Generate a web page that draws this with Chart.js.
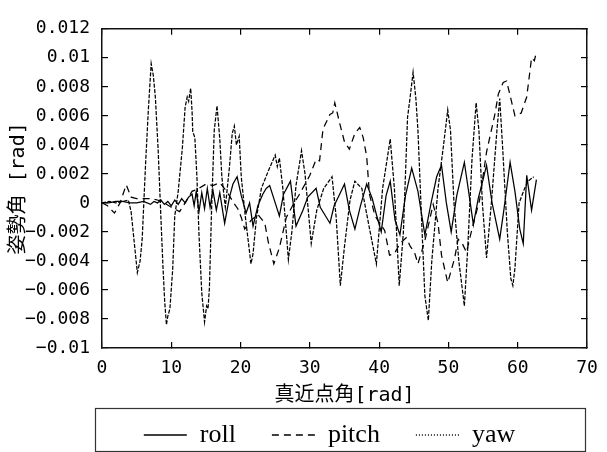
<!DOCTYPE html>
<html><head><meta charset="utf-8">
<script src="https://cdn.jsdelivr.net/npm/chart.js@4"></script>
<style>html,body{margin:0;padding:0;background:#fff}</style>
</head><body>
<canvas id="c" width="607" height="452"></canvas>
<script>
// ---- data ----
const xTickValues = [0, 10, 20, 30, 40, 50, 60, 70];
const xTickLabels = ['0', '10', '20', '30', '40', '50', '60', '70'];
const yTickValues = [-0.01, -0.008, -0.006, -0.004, -0.002, 0, 0.002, 0.004, 0.006, 0.008, 0.01, 0.012];
const yTickLabels = ['−0.01', '−0.008', '−0.006', '−0.004', '−0.002', '0', '0.002', '0.004', '0.006', '0.008', '0.01', '0.012'];
const seriesNames = ['roll', 'pitch', 'yaw'];
const xTitle = '真近点角[rad]';
const yTitle = '姿勢角 [rad]';

const rollData = [[0,0],[1,0],[2,0.0001],[3,0.0001],[4,0],[5,0],[6,0.0001],[7,-0.0001],[7.5,0.0001],[8,0],[8.5,0.0002],[9,-0.0001],[9.5,0.0001],[10,-0.0002],[10.5,0.0002],[11,-0.0001],[11.5,0.0003],[12,0],[12.5,0.0004],[13,0.0006],[13.3,-0.0002],[13.6,0.0008],[14,-0.0006],[14.4,0.0007],[14.8,-0.0004],[15.2,0.001],[15.6,-0.0003],[16,0.0009],[16.5,-0.0005],[17,0.0007],[17.7,-0.0014],[18.4,0.0004],[18.9,0.0013],[19.5,0.0018],[20.1,0.0005],[20.8,-0.0007],[21.3,0],[21.8,-0.0016],[22.5,-0.0002],[23.2,0.0006],[23.7,0.001],[24.2,0.0012],[25,0],[25.6,-0.0009],[26.2,0.0006],[27.2,0.0015],[28,-0.0016],[29,-0.0005],[29.7,0.0004],[30.9,0.001],[31.5,-0.0003],[32.9,-0.0014],[33.5,-0.0002],[34.3,0.0006],[35,0.0013],[35.7,-0.0005],[36.5,-0.0018],[37.3,-0.0002],[38.2,0.0013],[39,0.0003],[39.6,-0.0008],[40.3,-0.002],[41,0.0005],[41.6,0.0015],[42.3,-0.0012],[43,-0.0022],[43.8,0.0005],[44.7,0.0024],[45.6,0.0008],[46.6,-0.0022],[47.5,0],[48.3,0.0018],[49,0.0026],[49.7,0],[50.4,-0.002],[51.2,0.0005],[52.3,0.0028],[53,0.0005],[53.6,-0.0015],[54.3,0.0003],[55,0.0016],[55.5,0.0026],[56.3,0],[57.4,-0.0025],[58,-0.0005],[58.9,0.0028],[59.6,0.0008],[60.3,-0.0018],[60.8,-0.0028],[61.3,0.0019],[62,-0.0005],[62.7,0.0016]];

const pitchData = [[0,0],[0.8,-0.0002],[1.8,-0.0007],[2.6,0],[3.5,0.00125],[4.2,0.0004],[5,0.0003],[6,0.0003],[7,0.0003],[8,0.0002],[9,0],[10,-0.0003],[11.2,-0.0006],[12,0],[13,0.0008],[14,0.001],[15,0.0013],[16,0.0012],[17,0.0014],[18,0.0008],[19,0],[19.6,-0.0004],[20.1,-0.001],[20.6,-0.0018],[21.5,-0.0012],[22.5,-0.0008],[23.5,-0.0014],[24,-0.0027],[24.8,-0.0042],[25.6,-0.0031],[26.6,-0.001],[27.5,-0.0002],[28.5,0.0006],[30,0.0019],[30.9,0.003],[31.4,0.0029],[31.9,0.0051],[32.9,0.0061],[33.3,0.0062],[33.6,0.0069],[34.3,0.0055],[35,0.0042],[35.7,0.0037],[36.5,0.0048],[37.2,0.0052],[37.7,0.0045],[38.2,0.0032],[38.6,0.0006],[39.4,-0.0009],[40.8,-0.0019],[41.5,-0.0036],[42.2,-0.0035],[43,-0.0028],[43.9,-0.0024],[44.5,-0.003],[45.1,-0.0034],[45.6,-0.0042],[46.6,-0.0026],[47.8,-0.0001],[48.5,-0.0014],[49,-0.0036],[49.9,-0.0055],[50.9,-0.0038],[51.4,-0.0025],[52,-0.0028],[52.6,-0.0034],[53.3,-0.002],[54,-0.0007],[54.5,0.0002],[55.5,0.0035],[56.7,0.0061],[57.2,0.0075],[57.9,0.0083],[58.4,0.0084],[59,0.0072],[59.6,0.006],[60.5,0.0062],[61.3,0.0073],[62,0.01],[62.4,0.0098],[62.7,0.0104]];

const yawData = [[0,0],[1,0.0001],[2,0],[3,0.0001],[3.8,0.0002],[4.2,-0.0006],[5.1,-0.0048],[5.5,-0.004],[5.8,-0.0025],[6.3,0.0028],[6.7,0.0065],[7.1,0.0096],[7.4,0.0088],[7.7,0.0073],[8.1,0.0037],[8.5,-0.001],[8.8,-0.0044],[9.05,-0.0068],[9.3,-0.0084],[9.5,-0.0078],[9.8,-0.0073],[10.2,-0.0046],[10.5,-0.0009],[11,0.0008],[11.6,0.0038],[12,0.0066],[12.3,0.0073],[12.5,0.007],[12.8,0.0079],[13,0.0063],[13.1,0.0049],[13.4,0.0045],[13.7,0.0018],[14,-0.0022],[14.4,-0.0062],[14.8,-0.0082],[15.1,-0.0071],[15.3,-0.0073],[15.5,-0.0059],[15.8,-0.0007],[16.2,0.005],[16.6,0.0067],[17,0.0044],[17.3,0.0018],[17.8,-0.0003],[18.4,0.0025],[18.8,0.0048],[19.1,0.0053],[19.4,0.004],[19.8,0.0046],[20.1,0.0018],[20.7,-0.001],[21.5,-0.0042],[21.8,-0.0035],[22.3,-0.001],[23,0.001],[24,0.0022],[25,0.0033],[25.3,0.0025],[25.6,0.0031],[26.1,0.001],[26.9,-0.0039],[27.4,-0.002],[28,0.0012],[28.8,0.0036],[29.3,0.002],[30.2,-0.0028],[31,-0.0005],[32,0.001],[33.2,0.0018],[33.8,-0.001],[34.4,-0.0057],[35,-0.003],[35.8,0.0002],[36.5,0.0015],[37.5,0.001],[38.5,-0.0015],[39.6,-0.0042],[40.5,0.001],[41.6,0.0044],[42.2,0.001],[42.9,-0.0057],[43.5,-0.002],[44.1,0.0059],[44.4,0.007],[44.9,0.009],[45.3,0.0072],[45.6,0.005],[46.2,-0.002],[46.6,-0.0064],[47.1,-0.0081],[47.6,-0.004],[48.5,0.001],[49.3,0.004],[49.9,0.0064],[50.3,0.005],[50.8,0],[51.5,-0.004],[52.3,-0.0071],[52.8,-0.003],[53.4,0.003],[54,0.0069],[54.4,0.005],[54.9,0],[55.5,-0.0038],[56.2,0],[57,0.005],[57.4,0.0072],[57.8,0.004],[58.5,-0.002],[59,-0.0052],[59.3,-0.0057],[59.6,-0.0045],[60.2,0],[61,0.001],[61.5,0.0015],[62.3,0.0018]];

// ---- styles ----
const MONO = '"DejaVu Sans Mono","Noto Sans CJK JP",monospace';
const tickFont = {family: MONO, size: 18};
const titleFont = {family: MONO, size: 20};
const lineDashes = [[], [7, 5], [4, 1.5]];
const legendDashes = [[], [7, 5], [1, 2]];
const LEGEND_H = 66;

const setTicks = vals => s => { s.ticks = vals.map(v => ({value: v})); };
const gridOpts = {drawOnChartArea: false, drawTicks: true, tickLength: -6, color: '#000', tickColor: '#000', lineWidth: 1.2};
const borderOpts = {display: true, color: '#111', width: 1.5};

const legendTweaks = {
  id: 'legendTweaks',
  beforeLayout(chart) {
    const lg = chart.legend;
    if (lg && !lg._fitWrapped) {
      const f = lg.fit;
      lg.fit = function () { f.call(this); this.height = LEGEND_H; };
      lg._fitWrapped = true;
    }
  },
  afterLayout(chart) {
    const lg = chart.legend, a = chart.chartArea;
    lg.left = a.left - 30;
    lg.width = lg.right - lg.left;
  },
  afterDraw(chart) {
    const {ctx, chartArea: a} = chart;
    const x0 = a.left - 7, x1 = a.right - 2, y0 = a.bottom + 60, y1 = chart.height - 1;
    ctx.save();
    ctx.strokeStyle = '#333';
    ctx.lineWidth = 1.2;
    ctx.strokeRect(x0 + 0.5, y0 + 0.5, x1 - x0, y1 - y0);
    ctx.restore();
  }
};

const toXY = arr => arr.map(([x, y]) => ({x, y}));
const allData = [rollData, pitchData, yawData];

new Chart(document.getElementById('c'), {
  type: 'line',
  data: {
    datasets: seriesNames.map((n, i) => ({
      label: n, data: toXY(allData[i]), borderColor: '#000', backgroundColor: '#000',
      borderWidth: 1.25, borderDash: lineDashes[i], pointRadius: 0, tension: 0, fill: false
    }))
  },
  options: {
    responsive: false, animation: false, devicePixelRatio: 1,
    layout: {padding: {left: 0, right: 20, top: 15, bottom: 0}},
    plugins: {
      tooltip: {enabled: false},
      legend: {
        position: 'bottom', align: 'center',
        labels: {
          usePointStyle: true, pointStyle: 'line', pointStyleWidth: 43, padding: 36, color: '#000',
          font: {family: '"Liberation Serif","Times New Roman",serif', size: 26},
          generateLabels: chart => chart.data.datasets.map((d, i) => ({
            text: d.label, fillStyle: '#000', strokeStyle: '#000', fontColor: '#000', lineWidth: 1.3,
            lineDash: legendDashes[i], pointStyle: 'line', datasetIndex: i, hidden: false
          }))
        }
      }
    },
    scales: {
      x: {
        type: 'linear', position: 'bottom', min: 0, max: 70,
        afterBuildTicks: setTicks(xTickValues),
        ticks: {font: tickFont, color: '#000', padding: 16, maxRotation: 0, autoSkip: false, callback: (v, i) => xTickLabels[i]},
        grid: gridOpts, border: borderOpts,
        title: {display: true, text: xTitle, font: titleFont, color: '#000', padding: {top: 0, bottom: -22}},
        afterFit: s => { s.height = 38; s.paddingLeft = 0; s.paddingRight = 0; }
      },
      x2: {
        type: 'linear', position: 'top', min: 0, max: 70,
        afterBuildTicks: setTicks(xTickValues),
        ticks: {display: false}, grid: gridOpts, border: borderOpts,
        afterFit: s => { s.height = 0; s.paddingLeft = 0; s.paddingRight = 0; }
      },
      y: {
        type: 'linear', position: 'left', min: -0.01, max: 0.012,
        afterBuildTicks: setTicks(yTickValues),
        ticks: {font: tickFont, color: '#000', padding: 18, autoSkip: false, callback: (v, i) => yTickLabels[i]},
        grid: gridOpts, border: borderOpts,
        title: {display: true, text: yTitle, font: titleFont, color: '#000', padding: {top: 7, bottom: 0}},
        afterFit: s => { s.width = 102; }
      },
      y2: {
        type: 'linear', position: 'right', min: -0.01, max: 0.012,
        afterBuildTicks: setTicks(yTickValues),
        ticks: {display: false}, grid: gridOpts, border: borderOpts,
        afterFit: s => { s.width = 0; }
      }
    }
  },
  plugins: [legendTweaks]
});
</script>
</body></html>
